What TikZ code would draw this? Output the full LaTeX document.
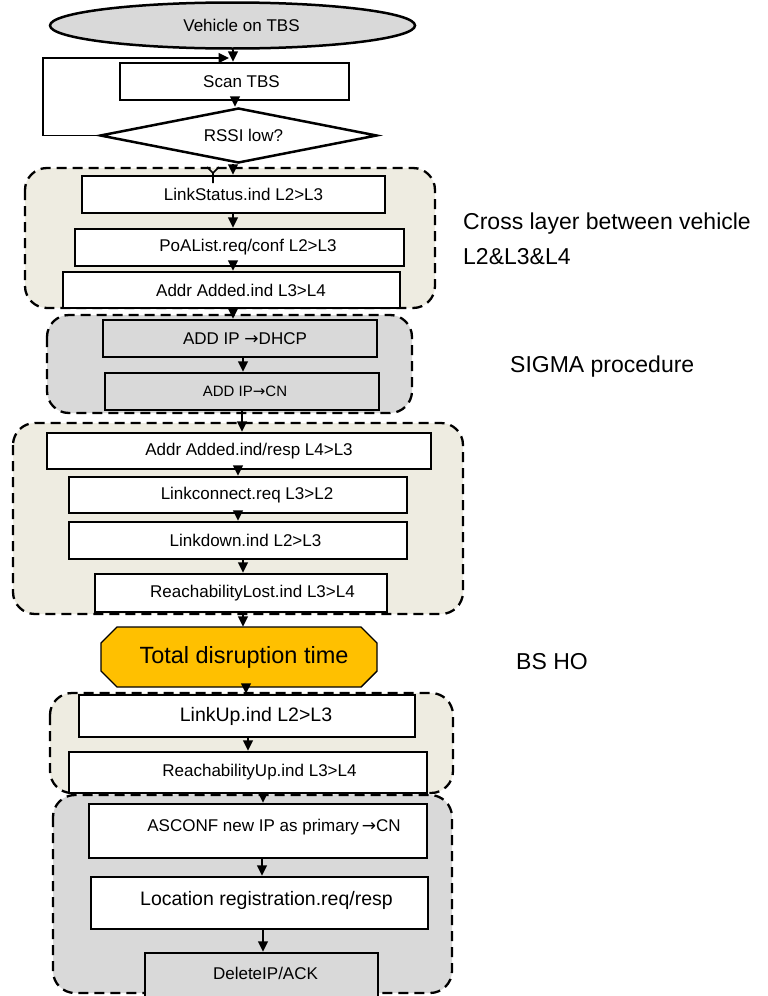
\documentclass[tikz,border=0pt]{standalone}
\usepackage{fontspec}
\setmainfont{Liberation Sans}
\newfontfamily\symf{DejaVu Sans}
\usetikzlibrary{shapes.geometric,arrows.meta}
\definecolor{beige}{HTML}{EEECE1}
\definecolor{lgray}{HTML}{D9D9D9}
\definecolor{gold}{HTML}{FFC000}
\newcommand\fsz[1]{\fontsize{#1}{#1}\selectfont}
\newcommand\rarr{{\symf →}}
\begin{document}
\begin{tikzpicture}[x=1pt,y=-1pt,
  box/.style={draw, line width=2.5pt, fill=white, inner sep=0pt, font=\fsz{17}},
  grp/.style={draw, line width=2.3pt, dash pattern=on 10pt off 6pt, rounded corners=22pt},
  arr/.style={line width=1.5pt, -{Triangle[length=10.5pt,width=10pt]}},
  side/.style={font=\fsz{23}, inner sep=0pt, anchor=base west}]
\useasboundingbox (0,0) rectangle (768,996);
\clip (0,0) rectangle (768,996);

% groups
\draw[grp, fill=beige] (25,168) rectangle (435,308);
\draw[grp, fill=lgray] (47,315) rectangle (412,413);
\draw[grp, fill=beige] (13,423) rectangle (463,614);
\draw[grp, fill=beige] (50,693) rectangle (453,793);
\draw[grp, fill=lgray] (53,795) rectangle (452,993);

% nodes
\node[box, shape=ellipse, fill=lgray, minimum width=365pt, minimum height=46pt] (veh) at (232.5,25.5) {\hspace*{18pt}Vehicle on TBS};
\node[box, minimum width=229pt, minimum height=37pt] (scan) at (234.5,81.5) {\hspace*{14pt}Scan TBS};
\node[box, shape=diamond, aspect=5, minimum width=277pt, minimum height=55pt] (rssi) at (238.5,135.5) {\hspace*{10pt}RSSI low?};
\node[box, minimum width=303pt, minimum height=37pt] (ls) at (233.5,194.5) {\hspace*{20pt}LinkStatus.ind L2>L3};
\node[box, minimum width=329pt, minimum height=37pt] (poa) at (239.5,247.5) {\hspace*{17pt}PoAList.req/conf L2>L3};
\node[box, minimum width=337pt, minimum height=36pt] (aa) at (231.5,290) {\hspace*{19pt}Addr Added.ind L3>L4};
\node[box, fill=lgray, minimum width=274pt, minimum height=37pt] (dhcp) at (240,338.5) {\hspace*{10pt}ADD IP \rarr DHCP};
\node[box, fill=lgray, minimum width=274pt, minimum height=37pt, font=\fsz{15}] (cn) at (242,391.5) {\hspace*{6pt}ADD IP\rarr CN};
\node[box, minimum width=384pt, minimum height=36pt] (aar) at (239,451) {\hspace*{20pt}Addr Added.ind/resp L4>L3};
\node[box, minimum width=338pt, minimum height=36pt] (lc) at (238,495) {\hspace*{18pt}Linkconnect.req L3>L2};
\node[box, minimum width=338pt, minimum height=37pt] (ld) at (238,540.5) {\hspace*{15pt}Linkdown.ind L2>L3};
\node[box, minimum width=292pt, minimum height=38pt] (rl) at (241,593) {\hspace*{23pt}ReachabilityLost.ind L3>L4};

% total disruption time (chamfered)
\fill[gold, draw=black, line width=1.4pt] (117,627) -- (361,627) -- (377,643) -- (377,671) -- (361,687) -- (117,687) -- (101,671) -- (101,643) -- cycle;
\node[inner sep=0pt, minimum width=276pt, minimum height=60pt, font=\fsz{23.5}] (tot) at (239,657) {\hspace*{10pt}Total disruption time};

\node[box, minimum width=336pt, minimum height=42pt, font=\fsz{19.5}] (lu) at (247,716) {\hspace*{18pt}LinkUp.ind L2>L3};
\node[box, minimum width=358pt, minimum height=41pt] (ru) at (248,772.5) {\hspace*{23pt}ReachabilityUp.ind L3>L4};
\node[box, minimum width=338pt, minimum height=54pt] (asc) at (258,831) {\hspace*{32pt}\raisebox{12pt}{ASCONF new IP as primary\,\rarr CN}};
\node[box, minimum width=337pt, minimum height=52pt, font=\fsz{19.5}] (loc) at (259.5,903) {\hspace*{14pt}\raisebox{10pt}{Location registration.req/resp}};
\node[box, fill=lgray, minimum width=233pt, minimum height=60pt] (del) at (261.5,983) {\hspace*{8pt}\raisebox{20pt}{DeleteIP/ACK}};

% side labels
\node[side] (cross) at (463,229) {Cross layer between vehicle};
\node[side] (l234) at (463,264) {L2\&L3\&L4};
\node[side] (sigma) at (510,372) {SIGMA procedure};
\node[side] (bsho) at (516,669) {BS HO};

% connectors
\coordinate (lp) at (229,58);
\draw[arr] (rssi.west) -- ++(-56,0) |- (lp);
\draw[arr] (veh.south -| 233,0) -- (scan.north -| 233,0);
\draw[arr] (scan.south -| 235,0) -- (rssi.north -| 235,0);
\draw[arr] (rssi.south -| 233,0) -- (ls.north -| 233,0);
\draw[line width=1.6pt] (207,167) -- (213,173) -- (219,167) (213,173) -- (213,183);
\draw[arr] (ls.south -| 233,0) -- (poa.north -| 233,0);
\draw[arr] (poa.south -| 233,0) -- (aa.north -| 233,0);
\draw[arr] (aa.south -| 233,0) -- (dhcp.north -| 233,0);
\draw[arr] (dhcp.south -| 243,0) -- (cn.north -| 243,0);
\draw[arr] (cn.south -| 242,0) -- (aar.north -| 242,0);
\draw[arr] (aar.south -| 238,0) -- (lc.north -| 238,0);
\draw[arr] (lc.south -| 238,0) -- (ld.north -| 238,0);
\draw[arr] (ld.south -| 243,0) -- (rl.north -| 243,0);
\draw[arr] (rl.south -| 243,0) -- (tot.north -| 243,0);
\draw[arr] (tot.south -| 246,0) -- (lu.north -| 246,0);
\draw[arr] (lu.south -| 248,0) -- (ru.north -| 248,0);
\draw[arr] (ru.south -| 263,0) -- (asc.north -| 263,0);
\draw[arr] (asc.south -| 262,0) -- (loc.north -| 262,0);
\draw[arr] (loc.south -| 263,0) -- (del.north -| 263,0);
\end{tikzpicture}
\end{document}
